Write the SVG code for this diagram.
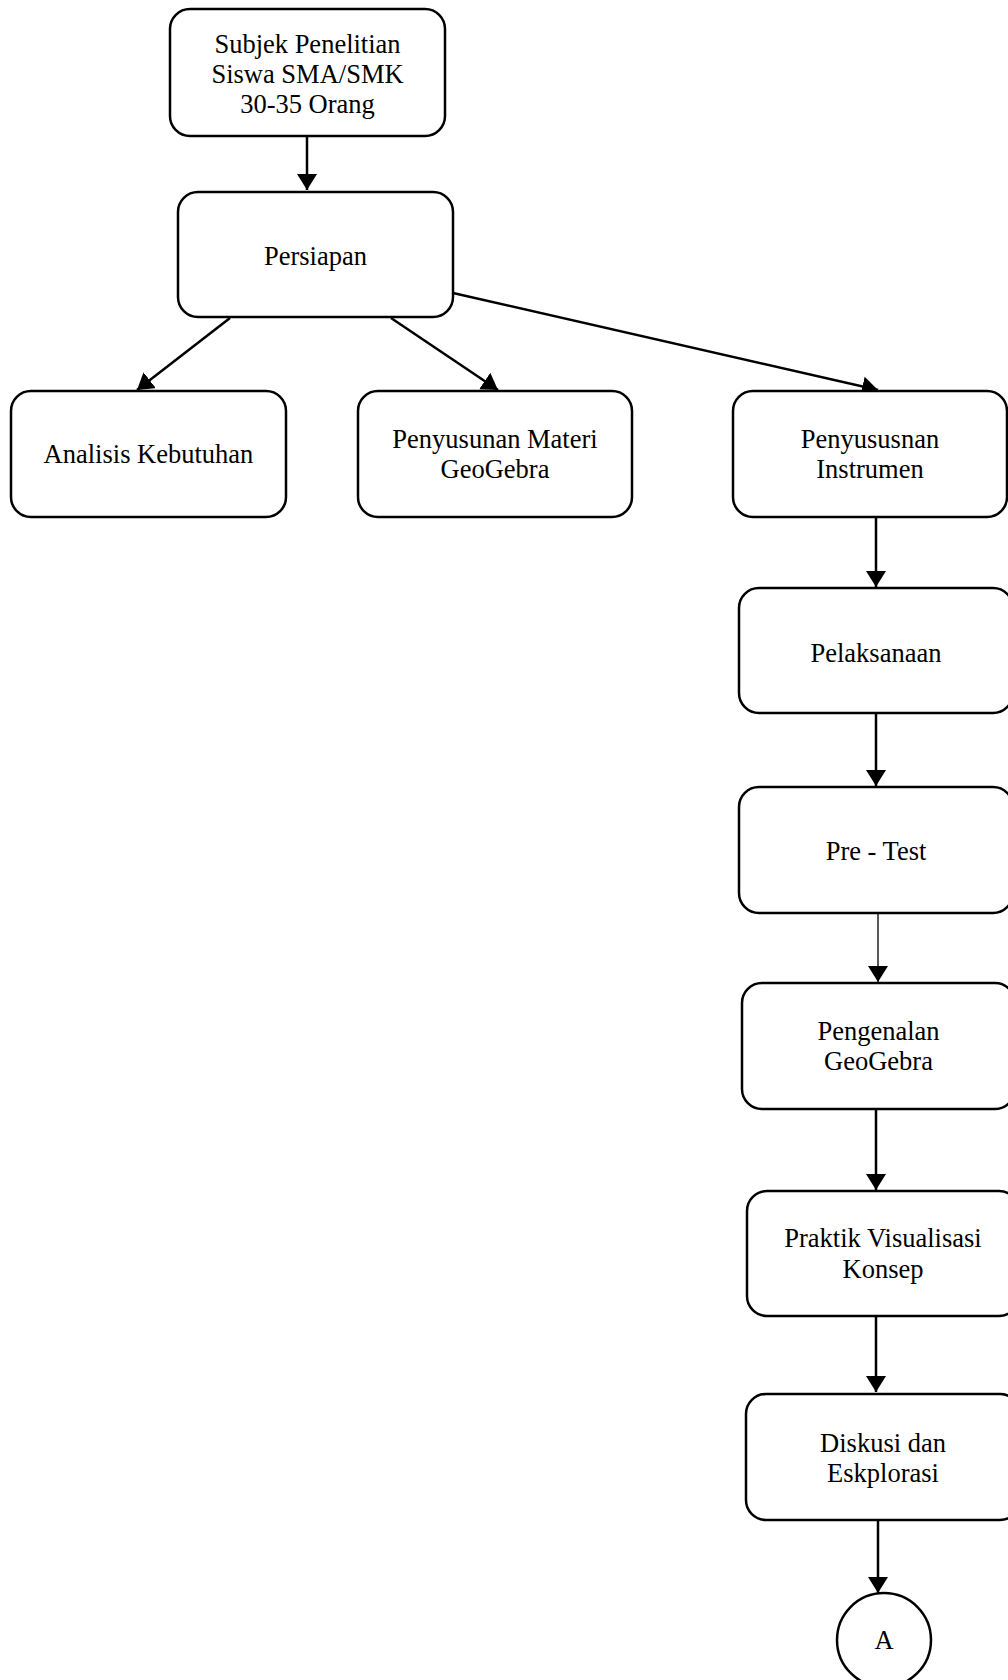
<svg xmlns="http://www.w3.org/2000/svg" width="1008" height="1680" viewBox="0 0 1008 1680">
<style>
.box{fill:#fff;stroke:#000;stroke-width:2.5}
.t{font-family:"Liberation Serif","Times New Roman",serif;font-size:26.5px;fill:#000;text-anchor:middle}
.c{fill:none;stroke:#000;stroke-width:2.5}
.thin{stroke-width:1.3}
</style>
<defs>
<marker id="ah" viewBox="0 0 16 20" markerWidth="16" markerHeight="20" refX="16" refY="10" orient="auto" markerUnits="userSpaceOnUse">
<path d="M0,0 L16,10 L0,20 z" fill="#000"/>
</marker>
</defs>
<rect width="1008" height="1680" fill="#fff"/>
<g id="connectors">
<line class="c" x1="307" y1="136" x2="307" y2="190" marker-end="url(#ah)"/>
<line class="c" x1="230" y1="318" x2="137" y2="390" marker-end="url(#ah)"/>
<line class="c" x1="391" y1="318" x2="498" y2="390" marker-end="url(#ah)"/>
<line class="c" x1="453" y1="293" x2="878" y2="390" marker-end="url(#ah)"/>
<line class="c" x1="876" y1="517" x2="876" y2="587" marker-end="url(#ah)"/>
<line class="c" x1="876" y1="713" x2="876" y2="786" marker-end="url(#ah)"/>
<line class="c thin" x1="878" y1="913" x2="878" y2="982" marker-end="url(#ah)"/>
<line class="c" x1="876" y1="1109" x2="876" y2="1190" marker-end="url(#ah)"/>
<line class="c" x1="876" y1="1317" x2="876" y2="1392" marker-end="url(#ah)"/>
<line class="c" x1="878" y1="1520" x2="878" y2="1593" marker-end="url(#ah)"/>
</g>
<g id="subjek">
<rect class="box" x="170" y="9" width="275" height="127" rx="20"/>
<text class="t" x="307.5" y="53">Subjek Penelitian</text>
<text class="t" x="307.5" y="83">Siswa SMA/SMK</text>
<text class="t" x="307.5" y="113">30-35 Orang</text>
</g>
<g id="persiapan">
<rect class="box" x="178" y="192" width="275" height="125" rx="20"/>
<text class="t" x="315.5" y="265">Persiapan</text>
</g>
<g id="analisis">
<rect class="box" x="11" y="391" width="275" height="126" rx="20"/>
<text class="t" x="148.5" y="463">Analisis Kebutuhan</text>
</g>
<g id="materi">
<rect class="box" x="358" y="391" width="274" height="126" rx="20"/>
<text class="t" x="495" y="448">Penyusunan Materi</text>
<text class="t" x="495" y="478">GeoGebra</text>
</g>
<g id="instrumen">
<rect class="box" x="733" y="391" width="274" height="126" rx="20"/>
<text class="t" x="870" y="448">Penyususnan</text>
<text class="t" x="870" y="478">Instrumen</text>
</g>
<g id="pelaksanaan">
<rect class="box" x="739" y="588" width="274" height="125" rx="20"/>
<text class="t" x="876" y="662">Pelaksanaan</text>
</g>
<g id="pretest">
<rect class="box" x="739" y="787" width="274" height="126" rx="20"/>
<text class="t" x="876" y="860">Pre - Test</text>
</g>
<g id="pengenalan">
<rect class="box" x="742" y="983" width="273" height="126" rx="20"/>
<text class="t" x="878.5" y="1040">Pengenalan</text>
<text class="t" x="878.5" y="1070">GeoGebra</text>
</g>
<g id="praktik">
<rect class="box" x="747" y="1191" width="272" height="125" rx="20"/>
<text class="t" x="883" y="1247">Praktik Visualisasi</text>
<text class="t" x="883" y="1278">Konsep</text>
</g>
<g id="diskusi">
<rect class="box" x="746" y="1394" width="274" height="126" rx="20"/>
<text class="t" x="883" y="1452">Diskusi dan</text>
<text class="t" x="883" y="1482">Eskplorasi</text>
</g>
<g id="connector-a">
<circle class="box" cx="884" cy="1640" r="47"/>
<text class="t" x="884" y="1649">A</text>
</g>
</svg>
